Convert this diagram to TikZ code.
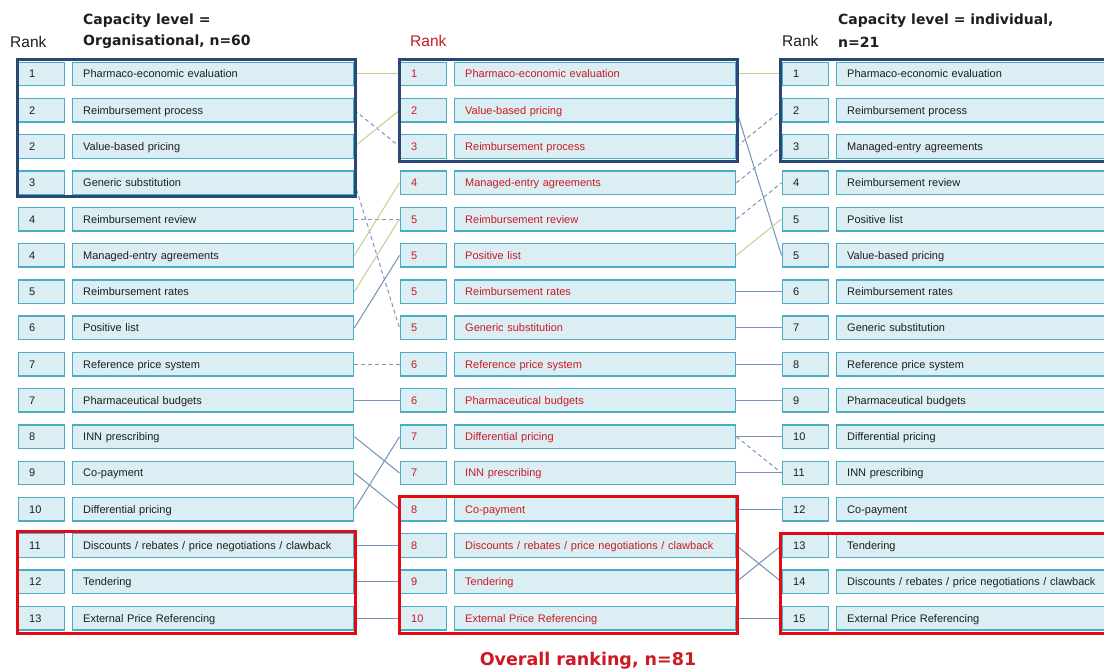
\documentclass[tikz,border=0pt]{standalone}
\usepackage{fontspec}
\setmainfont{Liberation Sans}
\newfontfamily\hdfont{DejaVu Sans}
\definecolor{boxfill}{RGB}{218,238,243}
\definecolor{boxline}{RGB}{75,172,198}
\definecolor{frameblue}{RGB}{42,72,118}
\definecolor{framered}{RGB}{228,10,20}
\definecolor{midred}{RGB}{205,25,35}
\definecolor{txt}{RGB}{30,30,30}
\definecolor{lngreen}{RGB}{190,210,140}
\definecolor{lnblue}{RGB}{115,145,185}
\definecolor{lndash}{RGB}{125,150,190}
\tikzset{
  rankbox/.style={draw=boxline, fill=boxfill, line width=1.4pt, minimum height=23.5pt,
    text width=24pt, inner xsep=11pt, inner ysep=0pt, align=left, anchor=west,
    font=\fontsize{11}{13}\selectfont, text height=10pt, text depth=2pt},
  labelbox/.style={rankbox, text width=260pt, inner xsep=10.5pt},
  rlabelbox/.style={rankbox, text width=253pt, inner xsep=10.5pt},
  gline/.style={draw=lngreen, line width=1pt},
  bline/.style={draw=lnblue, line width=1pt},
  dline/.style={draw=lndash, line width=1pt, dash pattern=on 4pt off 3pt},
  bframe/.style={draw=frameblue, line width=3pt},
  rframe/.style={draw=framered, line width=3pt},
  hdr/.style={font=\hdfont\bfseries\fontsize{14}{16}\selectfont, anchor=west, inner sep=0pt},
  rankhdr/.style={font=\fontsize{15.5}{17}\selectfont, anchor=west, inner sep=0pt}
}
\begin{document}
\begin{tikzpicture}[x=1pt,y=-1pt]
\clip (0,0) rectangle (1104,671);
\fill[white] (0,0) rectangle (1104,671);

% headers
\node[rankhdr, txt] (hL) at (10,42) {Rank};
\node[hdr, txt] (hL1) at (83,21) {Capacity level =};
\node[hdr, txt] (hL2) at (83,42) {Organisational, n=60};
\node[rankhdr, midred] (hM) at (410,41) {Rank};
\node[rankhdr, txt] (hR) at (782,41) {Rank};
\node[hdr, txt] (hR1) at (838,21) {Capacity level = individual,};
\node[hdr, txt] (hR2) at (838,42) {n=21};
\node[font=\hdfont\bfseries\fontsize{17.5}{20}\selectfont, midred, inner sep=0pt] (foot) at (588,661) {Overall ranking, n=81};

% left column
\foreach \rk/\lab [count=\i, evaluate=\i as \yy using 74+(\i-1)*36.27] in {
  1/Pharmaco-economic evaluation, 2/Reimbursement process, 2/Value-based pricing,
  3/Generic substitution, 4/Reimbursement review, 4/Managed-entry agreements,
  5/Reimbursement rates, 6/Positive list, 7/Reference price system,
  7/Pharmaceutical budgets, 8/INN prescribing, 9/Co-payment, 10/Differential pricing,
  11/{Discounts / rebates / price negotiations / clawback}, 12/Tendering,
  13/External Price Referencing}{
  \node[rankbox, text=txt] (Lr\i) at (17.5,\yy) {\rk};
  \node[labelbox, text=txt] (Lt\i) at (72,\yy) {\lab};
}

% middle column
\foreach \rk/\lab [count=\i, evaluate=\i as \yy using 74+(\i-1)*36.27] in {
  1/Pharmaco-economic evaluation, 2/Value-based pricing, 3/Reimbursement process,
  4/Managed-entry agreements, 5/Reimbursement review, 5/Positive list,
  5/Reimbursement rates, 5/Generic substitution, 6/Reference price system,
  6/Pharmaceutical budgets, 7/Differential pricing, 7/INN prescribing, 8/Co-payment,
  8/{Discounts / rebates / price negotiations / clawback}, 9/Tendering,
  10/External Price Referencing}{
  \node[rankbox, text=midred] (Mr\i) at (399.5,\yy) {\rk};
  \node[labelbox, text=midred] (Mt\i) at (454,\yy) {\lab};
}

% right column
\foreach \rk/\lab [count=\i, evaluate=\i as \yy using 74+(\i-1)*36.27] in {
  1/Pharmaco-economic evaluation, 2/Reimbursement process, 3/Managed-entry agreements,
  4/Reimbursement review, 5/Positive list, 5/Value-based pricing,
  6/Reimbursement rates, 7/Generic substitution, 8/Reference price system,
  9/Pharmaceutical budgets, 10/Differential pricing, 11/INN prescribing, 12/Co-payment,
  13/Tendering, 14/{Discounts / rebates / price negotiations / clawback},
  15/External Price Referencing}{
  \node[rankbox, text=txt] (Rr\i) at (781.5,\yy) {\rk};
  \node[rlabelbox, text=txt] (Rt\i) at (836,\yy) {\lab};
}

% connectors left -> middle
\draw[gline] (Lt1.east) -- (Mr1.west);
\draw[dline] (Lt2.east) -- (Mr3.west);
\draw[gline] (Lt3.east) -- (Mr2.west);
\draw[dline] (Lt4.east) -- (Mr8.west);
\draw[dline] (Lt5.east) -- (Mr5.west);
\draw[gline] (Lt6.east) -- (Mr4.west);
\draw[gline] (Lt7.east) -- (Mr5.west);
\draw[bline] (Lt8.east) -- (Mr6.west);
\draw[dline] (Lt9.east) -- (Mr9.west);
\draw[bline] (Lt10.east) -- (Mr10.west);
\draw[bline] (Lt11.east) -- (Mr12.west);
\draw[bline] (Lt12.east) -- (Mr13.west);
\draw[bline] (Lt13.east) -- (Mr11.west);
\draw[bline] (Lt14.east) -- (Mr14.west);
\draw[bline] (Lt15.east) -- (Mr15.west);
\draw[bline] (Lt16.east) -- (Mr16.west);

% connectors middle -> right
\draw[gline] (Mt1.east) -- (Rr1.west);
\draw[bline] (Mt2.east) -- (Rr6.west);
\draw[dline] (Mt3.east) -- (Rr2.west);
\draw[dline] (Mt4.east) -- (Rr3.west);
\draw[dline] (Mt5.east) -- (Rr4.west);
\draw[gline] (Mt6.east) -- (Rr5.west);
\draw[bline] (Mt7.east) -- (Rr7.west);
\draw[bline] (Mt8.east) -- (Rr8.west);
\draw[bline] (Mt9.east) -- (Rr9.west);
\draw[bline] (Mt10.east) -- (Rr10.west);
\draw[bline] (Mt11.east) -- (Rr11.west);
\draw[dline] (Mt11.east) -- (Rr12.west);
\draw[bline] (Mt12.east) -- (Rr12.west);
\draw[bline] (Mt13.east) -- (Rr13.west);
\draw[bline] (Mt14.east) -- (Rr15.west);
\draw[bline] (Mt15.east) -- (Rr14.west);
\draw[bline] (Mt16.east) -- (Rr16.west);

% group frames
\draw[bframe] (17,60) rectangle (355,197);
\draw[bframe] (399,60) rectangle (737,162);
\draw[bframe] (780,60) rectangle (1110,162);
\draw[rframe] (17,531) rectangle (355,633);
\draw[rframe] (399,496) rectangle (737,633);
\draw[rframe] (780,533) rectangle (1110,633);
\end{tikzpicture}
\end{document}
